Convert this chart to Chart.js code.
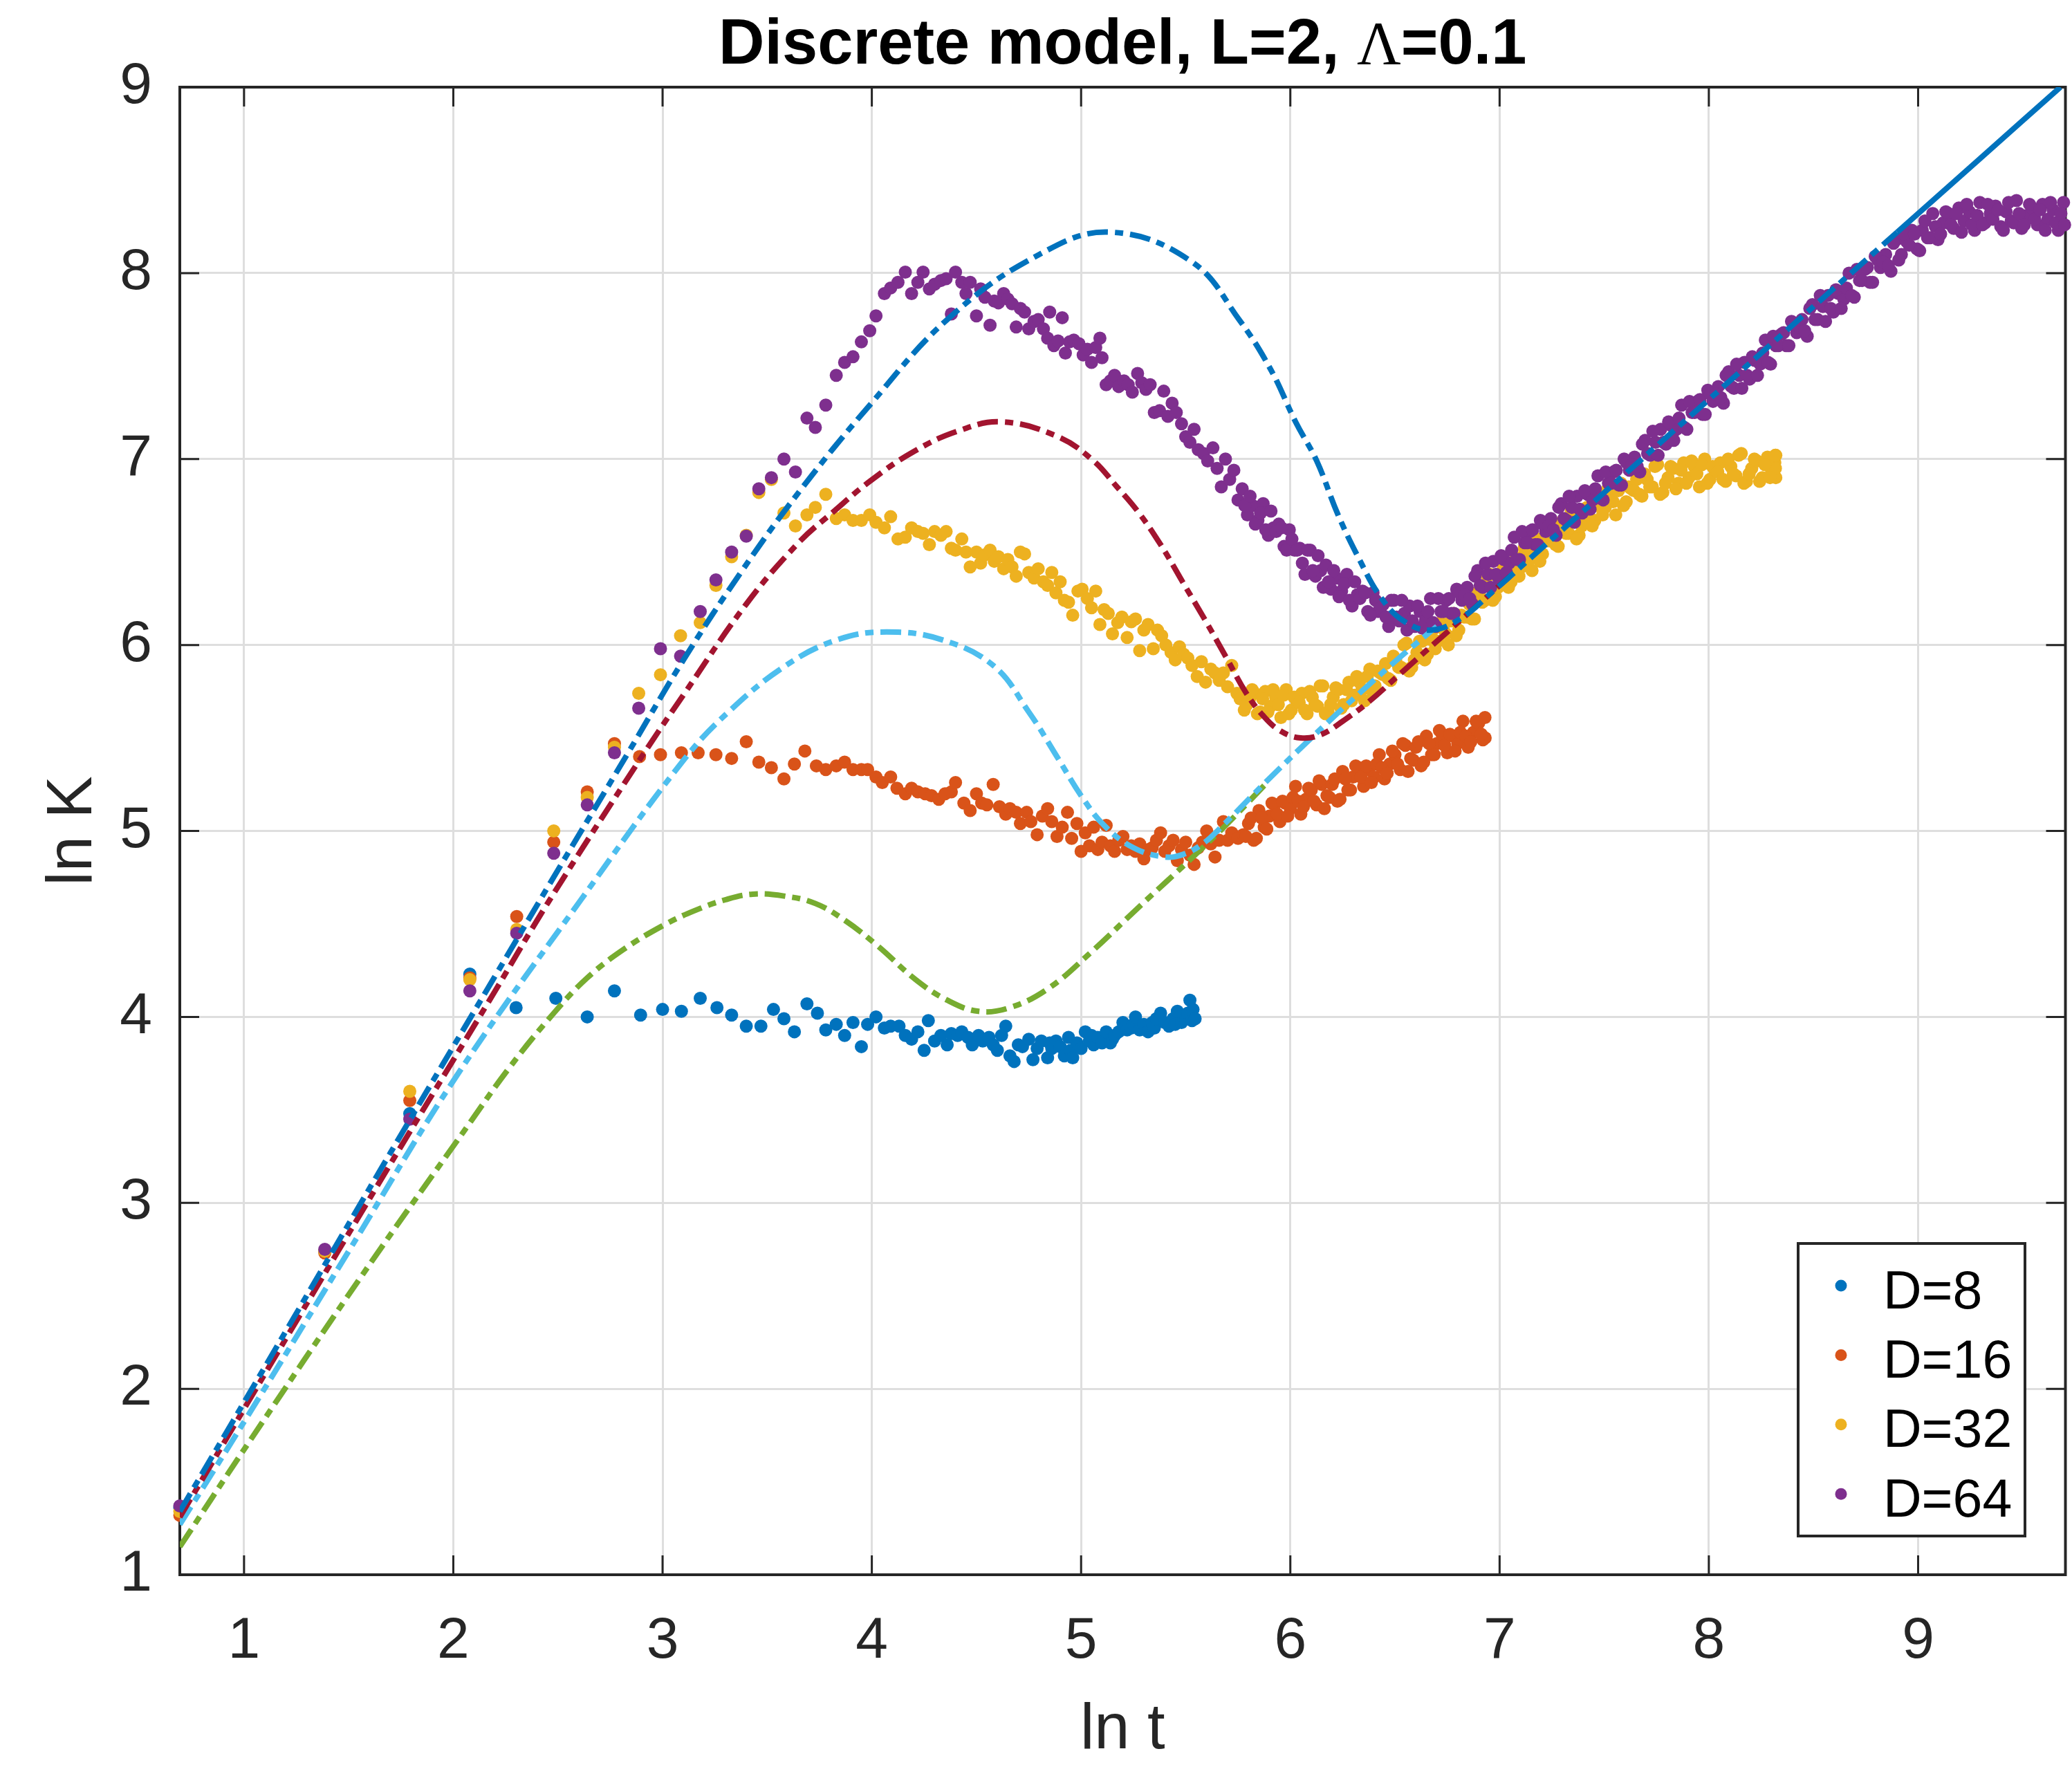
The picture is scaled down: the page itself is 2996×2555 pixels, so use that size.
<!DOCTYPE html>
<html lang="en">
<head>
  <meta charset="UTF-8">
  <title>Discrete model, L=2, Λ=0.1</title>
  <script src="https://cdn.jsdelivr.net/npm/chart.js"></script>
  <style>
    html, body { margin: 0; padding: 0; background: #fff; }
    canvas { display: block; }
  </style>
</head>
<body>
  <canvas id="grafico" width="2996" height="2555"></canvas>

  <script>
    // axis setup
    const xRange = [0.693, 9.704];
    const yRange = [1, 9];
    const xTicks = [1, 2, 3, 4, 5, 6, 7, 8, 9];
    const yTicks = [1, 2, 3, 4, 5, 6, 7, 8, 9];
    const seriesLabels = ['D=8', 'D=16', 'D=32', 'D=64'];

    // simulation points [ln t, ln K]
    const d8 = [
      [0.693,1.36],[1.386,2.74],[1.792,3.48],[2.079,4.23],[2.30,4.05],[2.49,4.10],[2.64,4.00],[2.77,4.14],[2.895,4.01],[3.00,4.04],
      [3.09,4.03],[3.18,4.10],[3.26,4.05],[3.33,4.01],[3.40,3.95],[3.47,3.95],[3.53,4.04],[3.58,3.99],[3.63,3.92],[3.69,4.07],
      [3.74,4.02],[3.78,3.93],[3.83,3.96],[3.87,3.90],[3.91,3.97],[3.95,3.84],[3.98,3.96],[4.02,4.00],[4.06,3.94],[4.09,3.95],
      [4.13,3.95],[4.16,3.90],[4.19,3.88],[4.22,3.92],[4.25,3.82],[4.27,3.98],[4.30,3.87],[4.33,3.90],[4.36,3.85],[4.38,3.91],
      [4.41,3.90],[4.43,3.92],[4.46,3.89],[4.48,3.85],[4.51,3.90],[4.53,3.87],[4.56,3.89],[4.58,3.85],[4.60,3.82],[4.62,3.90],
      [4.64,3.95],[4.66,3.79],[4.68,3.76],[4.70,3.85],[4.72,3.84],[4.75,3.88],[4.77,3.77],[4.79,3.83],[4.81,3.87],[4.84,3.78],
      [4.85,3.86],[4.86,3.83],[4.88,3.87],[4.90,3.84],[4.92,3.79],[4.94,3.89],[4.95,3.82],[4.96,3.78],[4.98,3.86],[5.00,3.83],
      [5.02,3.92],[5.04,3.87],[5.05,3.90],[5.06,3.85],[5.08,3.89],[5.10,3.86],[5.12,3.92],[5.14,3.86],[5.15,3.88],[5.16,3.90],
      [5.18,3.92],[5.20,3.97],[5.22,3.93],[5.24,3.94],[5.25,3.96],[5.26,4.00],[5.28,3.93],[5.30,3.96],[5.32,3.92],[5.34,3.97],
      [5.35,3.94],[5.36,3.99],[5.38,4.02],[5.40,3.97],[5.42,3.95],[5.44,3.99],[5.45,3.96],[5.46,4.03],[5.48,3.97],[5.50,3.99],
      [5.51,4.02],[5.52,4.09],[5.53,3.98],[5.535,4.04],[5.545,3.99]
    ];
    const d16 = [
      [0.693,1.32],[1.386,2.73],[1.792,3.55],[2.079,4.21],[2.303,4.54],[2.48,4.94],[2.64,5.21],[2.77,5.47],[2.89,5.40],[2.99,5.41],
      [3.09,5.42],[3.17,5.42],[3.255,5.41],[3.33,5.39],[3.40,5.48],[3.46,5.37],[3.52,5.34],[3.58,5.28],[3.63,5.36],[3.68,5.43],
      [3.735,5.35],[3.78,5.33],[3.83,5.35],[3.87,5.37],[3.91,5.33],[3.95,5.33],[3.98,5.33],[4.02,5.29],[4.05,5.26],[4.09,5.29],
      [4.12,5.23],[4.16,5.20],[4.19,5.23],[4.22,5.21],[4.255,5.20],[4.285,5.19],[4.32,5.17],[4.35,5.20],[4.38,5.21],[4.40,5.26],
      [4.44,5.15],[4.47,5.11],[4.50,5.20],[4.525,5.15],[4.55,5.14],[4.58,5.25],[4.61,5.13],[4.64,5.09],[4.66,5.12],[4.69,5.10],
      [4.71,5.04],[4.74,5.10],[4.76,5.05],[4.79,4.98],[4.815,5.08],[4.84,5.12],[4.86,5.05],[4.885,4.97],[4.91,5.02],[4.935,5.10],
      [4.955,4.96],[4.98,5.04],[5.00,4.89],[5.02,4.99],[5.04,4.92],[5.06,5.02],[5.08,4.90],[5.10,4.94],[5.12,5.03],[5.14,4.92],
      [5.16,4.89],[5.18,4.95],[5.20,4.97],[5.22,4.90],[5.24,4.92],[5.26,4.89],[5.28,4.93],[5.30,4.85],[5.32,4.90],[5.34,4.91],
      [5.36,4.95],[5.38,4.99],[5.40,4.89],[5.42,4.92],[5.44,4.95],[5.46,4.84],[5.48,4.90],[5.50,4.94],[5.52,4.87],[5.54,4.82],
      [5.56,4.91],[5.58,4.94],[5.60,5.00],[5.62,4.93],[5.64,4.86],[5.66,4.95],[5.68,5.05],[5.70,4.95],[5.72,4.99],[5.75,4.96],
      [5.775,4.98],[5.80,5.04],[5.825,4.95],[5.85,5.11],[5.875,5.02],[5.90,5.08],[5.925,5.14],[5.95,5.05],[5.975,5.15],[6.00,5.12],
      [6.025,5.24],[6.05,5.09],[6.075,5.17],[6.10,5.22],[6.125,5.14],[6.15,5.25],[6.175,5.19],[6.20,5.25],[6.225,5.16],[6.25,5.32],
      [6.275,5.22],[6.30,5.29],[6.325,5.34],[6.35,5.24],[6.375,5.33],[6.40,5.29],[6.425,5.41],[6.45,5.28],[6.475,5.36],[6.50,5.41],
      [6.525,5.33],[6.55,5.46],[6.575,5.39],[6.60,5.45],[6.625,5.35],[6.65,5.51],[6.675,5.41],[6.70,5.47],[6.725,5.52],[6.75,5.42],
      [6.775,5.51],[6.80,5.47],[6.825,5.59],[6.85,5.45],[6.875,5.53],[6.90,5.58],[6.92,5.49],[6.93,5.61],[6.931,5.50],
      [5.7875,4.97],[5.8125,5.07],[5.8375,4.96],[5.8625,5.07],[5.8875,5.01],[5.9125,5.15],[5.9375,5.09],[5.9625,5.16],[5.9875,5.08],[6.0125,5.18],
      [6.0375,5.16],[6.0625,5.13],[6.0875,5.23],[6.1125,5.16],[6.1375,5.27],[6.1625,5.12],[6.1875,5.18],[6.2125,5.28],[6.2375,5.17],[6.2625,5.28],
      [6.2875,5.22],[6.3125,5.35],[6.3375,5.29],[6.3625,5.35],[6.3875,5.26],[6.4125,5.36],[6.4375,5.34],[6.4625,5.31],[6.4875,5.43],[6.5125,5.36],
      [6.5375,5.47],[6.5625,5.32],[6.5875,5.38],[6.6125,5.48],[6.6375,5.37],[6.6625,5.47],[6.6875,5.41],[6.7125,5.54],[6.7375,5.46],[6.7625,5.52],
      [6.7875,5.43],[6.8125,5.53],[6.8375,5.51],[6.8625,5.48],[6.8875,5.59],[6.9125,5.52]
    ];
    const d32 = [
      [0.693,1.34],[1.386,2.74],[1.792,3.60],[2.079,4.20],[2.303,4.47],[2.48,5.00],[2.64,5.18],[2.77,5.45],[2.886,5.74],[2.99,5.84],
      [3.086,6.05],[3.18,6.12],[3.255,6.32],[3.33,6.475],[3.40,6.59],[3.46,6.82],[3.52,6.89],[3.58,6.71],[3.635,6.64],[3.69,6.70],
      [3.73,6.74],[3.78,6.81],[3.83,6.68],[3.87,6.70],[3.91,6.67],[3.95,6.67],[3.99,6.70],[4.02,6.66],[4.06,6.63],[4.09,6.69],
      [4.125,6.57],[4.16,6.58],[4.19,6.63],[4.22,6.61],[4.245,6.60],[4.275,6.54],[4.30,6.61],[4.33,6.59],[4.355,6.61],[4.38,6.52],
      [4.40,6.51],[4.43,6.57],[4.45,6.50],[4.47,6.42],[4.50,6.50],[4.52,6.44],[4.54,6.485],[4.565,6.51],[4.585,6.45],[4.605,6.475],
      [4.63,6.41],[4.65,6.46],[4.67,6.42],[4.69,6.37],[4.71,6.50],[4.73,6.49],[4.75,6.39],[4.775,6.36],[4.795,6.41],[4.82,6.34],
      [4.84,6.32],[4.86,6.39],[4.88,6.28],[4.90,6.34],[4.92,6.24],[4.94,6.23],[4.96,6.16],[4.985,6.29],[5.005,6.30],[5.03,6.25],
      [5.05,6.20],[5.07,6.29],[5.09,6.11],[5.11,6.19],[5.13,6.17],[5.15,6.06],[5.175,6.12],[5.195,6.15],[5.22,6.04],[5.24,6.125],
      [5.26,6.14],[5.28,5.97],[5.30,6.08],[5.32,6.11],[5.345,5.98],[5.365,6.08],[5.385,6.05],[5.405,6.00],[5.43,5.96],[5.45,5.92],
      [5.47,5.99],[5.49,5.95],[5.51,5.93],[5.53,5.89],[5.555,5.83],[5.575,5.91],[5.595,5.80],[5.62,5.87],[5.64,5.85],[5.66,5.81],
      [5.68,5.85],[5.70,5.775],[5.72,5.89],[5.745,5.74],[5.76,5.71],
      [5.78,5.65],[5.805,5.71],[5.83,5.74],[5.855,5.64],[5.88,5.75],[5.905,5.67],[5.93,5.72],[5.955,5.61],[5.98,5.76],[6.005,5.65],
      [6.03,5.70],[6.055,5.74],[6.08,5.63],[6.105,5.72],[6.13,5.67],[6.155,5.78],[6.18,5.64],[6.205,5.72],[6.23,5.76],[6.255,5.68],
      [6.28,5.80],[6.305,5.73],[6.33,5.80],[6.355,5.70],[6.38,5.87],[6.405,5.78],[6.43,5.85],[6.455,5.90],[6.48,5.81],[6.505,5.91],
      [6.53,5.88],[6.555,6.01],[6.58,5.88],[6.605,5.96],[6.63,6.02],[6.655,5.95],[6.68,6.08],[6.705,6.02],[6.73,6.09],[6.755,6.00],
      [6.78,6.17],[6.805,6.08],[6.83,6.15],[6.855,6.22],[6.88,6.14],[6.905,6.26],[6.93,6.24],[6.955,6.38],[6.98,6.26],[7.005,6.35],
      [7.03,6.41],[7.055,6.34],[7.08,6.47],[7.105,6.42],[7.13,6.49],[7.155,6.40],[7.18,6.57],[7.205,6.49],[7.23,6.56],[7.255,6.62],
      [7.28,6.53],[7.305,6.63],[7.33,6.60],[7.355,6.72],[7.38,6.59],[7.405,6.68],[7.43,6.74],[7.455,6.67],[7.48,6.80],[7.505,6.74],
      [7.53,6.80],[7.555,6.70],[7.58,6.87],[7.605,6.77],[7.63,6.84],[7.655,6.89],[7.68,6.80],[7.705,6.89],[7.73,6.85],[7.755,6.97],
      [7.78,6.82],[7.805,6.90],[7.83,6.95],[7.855,6.87],[7.88,6.98],[7.905,6.90],[7.93,6.96],[7.955,6.85],[7.98,7.00],[8.005,6.89],
      [8.03,6.94],[8.055,6.98],[8.08,6.88],[8.105,6.96],[8.13,6.91],[8.155,7.03],[8.18,6.88],[8.205,6.95],[8.23,6.99],[8.255,6.90],
      [8.28,7.01],[8.30,6.93],[8.315,6.98],[8.32,7.02],[8.32,6.90],[8.318,6.95],
      [5.7925,5.68],[5.8175,5.76],[5.8425,5.63],[5.8675,5.71],[5.8925,5.64],[5.9175,5.76],[5.9425,5.68],[5.9675,5.73],[5.9925,5.63],[6.0175,5.72],
      [6.0425,5.69],[6.0675,5.65],[6.0925,5.75],[6.1175,5.68],[6.1425,5.78],[6.1675,5.63],[6.1925,5.68],[6.2175,5.77],[6.2425,5.66],[6.2675,5.76],
      [6.2925,5.70],[6.3175,5.83],[6.3425,5.76],[6.3675,5.83],[6.3925,5.75],[6.4175,5.86],[6.4425,5.84],[6.4675,5.82],[6.4925,5.94],[6.5175,5.88],
      [6.5425,6.00],[6.5675,5.86],[6.5925,5.92],[6.6175,6.02],[6.6425,5.92],[6.6675,6.03],[6.6925,5.98],[6.7175,6.12],[6.7425,6.06],[6.7675,6.13],
      [6.7925,6.05],[6.8175,6.16],[6.8425,6.15],[6.8675,6.14],[6.8925,6.28],[6.9175,6.23],[6.9425,6.37],[6.9675,6.24],[6.9925,6.31],[7.0175,6.41],
      [7.0425,6.31],[7.0675,6.42],[7.0925,6.37],[7.1175,6.52],[7.1425,6.46],[7.1675,6.53],[7.1925,6.45],[7.2175,6.57],[7.2425,6.56],[7.2675,6.54],
      [7.2925,6.66],[7.3175,6.60],[7.3425,6.72],[7.3675,6.57],[7.3925,6.64],[7.4175,6.74],[7.4425,6.64],[7.4675,6.75],[7.4925,6.70],[7.5175,6.84],
      [7.5425,6.77],[7.5675,6.83],[7.5925,6.75],[7.6175,6.85],[7.6425,6.83],[7.6675,6.81],[7.6925,6.92],[7.7175,6.85],[7.7425,6.96],[7.7675,6.81],
      [7.7925,6.87],[7.8175,6.96],[7.8425,6.84],[7.8675,6.94],[7.8925,6.87],[7.9175,6.99],[7.9425,6.92],[7.9675,6.97],[7.9925,6.87],[8.0175,6.96],
      [8.0425,6.93],[8.0675,6.89],[8.0925,7.00],[8.1175,6.92],[8.1425,7.02],[8.1675,6.87],[8.1925,6.92],[8.2175,7.00],[8.2425,6.88],[8.2675,6.97],
      [8.2925,6.90],[8.3175,7.02]
    ];
    const d64 = [
      [0.693,1.37],[1.386,2.75],[1.792,3.45],[2.079,4.14],[2.303,4.45],[2.48,4.88],[2.64,5.14],[2.77,5.42],[2.886,5.66],[2.99,5.98],
      [3.086,5.94],[3.18,6.18],[3.255,6.35],[3.33,6.50],[3.40,6.585],[3.46,6.84],[3.52,6.90],[3.58,7.00],[3.635,6.93],[3.69,7.22],
      [3.73,7.17],[3.78,7.29],[3.83,7.45],[3.87,7.52],[3.91,7.55],[3.95,7.63],[3.99,7.69],[4.02,7.77],[4.06,7.89],[4.09,7.92],
      [4.125,7.95],[4.16,8.005],[4.19,7.89],[4.22,7.95],[4.245,8.005],[4.275,7.915],[4.30,7.94],[4.33,7.96],[4.355,7.97],[4.38,7.78],
      [4.40,8.005],[4.43,7.95],[4.45,7.89],[4.47,7.95],[4.50,7.77],[4.52,7.915],[4.54,7.87],[4.565,7.72],[4.585,7.85],[4.605,7.84],
      [4.63,7.89],[4.65,7.86],[4.67,7.835],[4.69,7.71],[4.71,7.81],[4.73,7.79],[4.75,7.70],[4.775,7.74],[4.795,7.75],[4.82,7.70],
      [4.84,7.65],[4.85,7.79],[4.87,7.61],[4.89,7.635],[4.91,7.76],[4.925,7.57],[4.945,7.63],[4.965,7.64],[4.99,7.62],[5.01,7.56],
      [5.03,7.59],[5.05,7.52],[5.07,7.60],[5.09,7.65],[5.10,7.545],[5.12,7.40],[5.14,7.42],[5.16,7.45],[5.18,7.39],[5.205,7.42],
      [5.225,7.40],[5.245,7.36],[5.27,7.46],[5.29,7.41],[5.31,7.375],[5.33,7.40],[5.35,7.25],[5.375,7.26],[5.395,7.365],[5.415,7.23],
      [5.435,7.30],[5.455,7.25],[5.48,7.19],[5.50,7.12],[5.52,7.09],[5.54,7.16],[5.56,7.05],[5.585,7.03],[5.605,6.99],[5.63,7.06],
      [5.65,6.95],[5.67,6.85],[5.69,7.00],[5.71,6.89],[5.73,6.94],[5.75,6.78],
      [5.77,6.84],[5.795,6.70],[5.82,6.75],[5.845,6.67],[5.87,6.76],[5.895,6.59],[5.92,6.63],[5.945,6.65],[5.97,6.53],[5.995,6.62],
      [6.02,6.51],[6.045,6.52],[6.07,6.38],[6.095,6.51],[6.12,6.37],[6.145,6.40],[6.17,6.43],[6.195,6.30],[6.22,6.36],[6.245,6.29],
      [6.27,6.38],[6.295,6.21],[6.32,6.27],[6.345,6.29],[6.37,6.18],[6.395,6.28],[6.42,6.18],[6.445,6.22],[6.47,6.10],[6.495,6.24],
      [6.52,6.13],[6.545,6.17],[6.57,6.21],[6.595,6.10],[6.62,6.18],[6.645,6.13],[6.67,6.25],[6.695,6.10],[6.72,6.18],[6.745,6.24],
      [6.77,6.17],[6.795,6.30],[6.82,6.24],[6.845,6.31],[6.87,6.22],[6.895,6.40],[6.92,6.31],[6.945,6.38],[6.97,6.45],[6.995,6.36],
      [7.02,6.46],[7.045,6.44],[7.07,6.58],[7.095,6.46],[7.12,6.55],[7.145,6.61],[7.17,6.54],[7.195,6.67],[7.22,6.61],[7.245,6.68],
      [7.27,6.59],[7.295,6.76],[7.32,6.67],[7.345,6.74],[7.37,6.80],[7.395,6.71],[7.42,6.81],[7.445,6.78],[7.47,6.91],[7.495,6.78],
      [7.52,6.87],[7.545,6.93],[7.57,6.86],[7.595,7.00],[7.62,6.94],[7.645,7.01],[7.67,6.93],[7.695,7.10],[7.72,7.02],[7.745,7.09],
      [7.77,7.16],[7.795,7.08],[7.82,7.18],[7.845,7.16],[7.87,7.29],[7.895,7.16],[7.92,7.25],[7.945,7.31],[7.97,7.24],[7.995,7.37],
      [8.02,7.31],[8.045,7.39],[8.07,7.30],[8.095,7.47],[8.12,7.38],[8.145,7.45],[8.17,7.52],[8.195,7.43],[8.22,7.53],[8.245,7.51],
      [8.27,7.64],[8.295,7.51],[8.32,7.61],[8.345,7.67],[8.37,7.61],[8.395,7.74],[8.42,7.68],[8.445,7.75],[8.47,7.66],[8.495,7.83],
      [8.52,7.75],[8.545,7.82],[8.57,7.88],[8.595,7.79],[8.62,7.89],[8.645,7.86],[8.67,8.00],[8.695,7.87],[8.72,7.96],[8.745,8.02],
      [8.77,7.95],[8.795,8.09],[8.82,8.03],[8.845,8.10],[8.87,8.01],[8.895,8.18],[8.92,8.10],[8.945,8.17],[8.97,8.23],[8.995,8.13],
      [9.02,8.23],[9.045,8.19],[9.07,8.32],[9.095,8.18],[9.12,8.27],[9.145,8.32],[9.17,8.24],[9.195,8.35],[9.22,8.28],[9.245,8.33],
      [9.27,8.23],[9.295,8.38],[9.32,8.27],[9.345,8.32],[9.37,8.36],[9.395,8.25],[9.42,8.33],[9.445,8.28],[9.47,8.39],[9.495,8.24],
      [9.52,8.31],[9.545,8.35],[9.57,8.26],[9.595,8.37],[9.62,8.29],[9.645,8.34],[9.67,8.23],[9.695,8.38],
      [5.7825,6.75],[5.8075,6.80],[5.8325,6.65],[5.8575,6.71],[5.8825,6.62],[5.9075,6.72],[5.9325,6.61],[5.9575,6.63],[5.9825,6.51],[6.0075,6.57],
      [6.0325,6.51],[6.0575,6.44],[6.0825,6.51],[6.1075,6.40],[6.1325,6.48],[6.1575,6.31],[6.1825,6.34],[6.2075,6.40],[6.2325,6.26],[6.2575,6.33],
      [6.2825,6.24],[6.3075,6.34],[6.3325,6.25],[6.3575,6.28],[6.3825,6.16],[6.4075,6.24],[6.4325,6.20],[6.4575,6.15],[6.4825,6.24],[6.5075,6.15],
      [6.5325,6.24],[6.5575,6.08],[6.5825,6.13],[6.6075,6.21],[6.6325,6.09],[6.6575,6.18],[6.6825,6.12],[6.7075,6.25],[6.7325,6.18],[6.7575,6.25],
      [6.7825,6.17],[6.8075,6.28],[6.8325,6.27],[6.8575,6.25],[6.8825,6.37],[6.9075,6.32],[6.9325,6.44],[6.9575,6.31],[6.9825,6.38],[7.0075,6.48],
      [7.0325,6.39],[7.0575,6.51],[7.0825,6.46],[7.1075,6.61],[7.1325,6.55],[7.1575,6.62],[7.1825,6.54],[7.2075,6.65],[7.2325,6.64],[7.2575,6.62],
      [7.2825,6.74],[7.3075,6.68],[7.3325,6.80],[7.3575,6.66],[7.3825,6.73],[7.4075,6.83],[7.4325,6.73],[7.4575,6.84],[7.4825,6.79],[7.5075,6.93],
      [7.5325,6.87],[7.5575,6.94],[7.5825,6.86],[7.6075,6.98],[7.6325,6.97],[7.6575,6.96],[7.6825,7.08],[7.7075,7.03],[7.7325,7.15],[7.7575,7.02],
      [7.7825,7.09],[7.8075,7.20],[7.8325,7.10],[7.8575,7.22],[7.8825,7.17],[7.9075,7.31],[7.9325,7.25],[7.9575,7.32],[7.9825,7.24],[8.0075,7.35],
      [8.0325,7.35],[8.0575,7.33],[8.0825,7.45],[8.1075,7.39],[8.1325,7.51],[8.1575,7.38],[8.1825,7.45],[8.2075,7.55],[8.2325,7.45],[8.2575,7.57],
      [8.2825,7.52],[8.3075,7.66],[8.3325,7.61],[8.3575,7.68],[8.3825,7.61],[8.4075,7.72],[8.4325,7.71],[8.4575,7.69],[8.4825,7.81],[8.5075,7.75],
      [8.5325,7.88],[8.5575,7.74],[8.5825,7.81],[8.6075,7.91],[8.6325,7.81],[8.6575,7.92],[8.6825,7.88],[8.7075,8.02],[8.7325,7.96],[8.7575,8.03],
      [8.7825,7.95],[8.8075,8.07],[8.8325,8.06],[8.8575,8.04],[8.8825,8.16],
      [8.9075,8.07],[8.9325,8.21],[8.9575,8.15],[8.9825,8.21],[9.0075,8.12],[9.0325,8.28],[9.0575,8.19],[9.0825,8.25],[9.1075,8.21],[9.1325,8.33],
      [9.1575,8.26],[9.1825,8.32],[9.2075,8.22],[9.2325,8.37],[9.2575,8.26],[9.2825,8.31],[9.3075,8.26],[9.3325,8.37],[9.3575,8.29],[9.3825,8.34],
      [9.4075,8.23],[9.4325,8.38],[9.4575,8.27],[9.4825,8.32],[9.5075,8.26],[9.5325,8.37],[9.5575,8.29],[9.5825,8.34],[9.6075,8.23],[9.6325,8.38],
      [9.6575,8.27],[9.6825,8.32],[9.70,8.26]
    ];

    // theory curves
    const fit64 = [
      [0.693,1.34],[1.2,2.31],[1.7,3.27],[2.2,4.22],[2.5,4.79],[2.83,5.41],[3.10,5.92],[3.38,6.40],[3.65,6.82],[3.99,7.29],
      [4.37,7.76],[4.8,8.10],[5.14,8.22],[5.53,8.06],[5.755,7.75],[5.907,7.48],[6.025,7.20],[6.126,6.99],[6.228,6.70],[6.33,6.46],
      [6.43,6.26],[6.54,6.13],[6.67,6.08],[6.81,6.14],[6.97,6.29],[7.14,6.46],[7.31,6.63],[7.58,6.90],[8.0,7.32],[8.37,7.69],
      [8.9,8.22],[9.30,8.62],[9.68,9.0]
    ];
    const fit32 = [
      [0.693,1.31],[1.2,2.27],[1.7,3.21],[2.2,4.14],[2.45,4.61],[2.895,5.39],[3.105,5.74],[3.40,6.22],[3.65,6.55],[3.82,6.72],
      [3.99,6.88],[4.20,7.04],[4.41,7.15],[4.62,7.20],[4.89,7.12],[5.06,6.99],[5.164,6.86],[5.27,6.72],[5.38,6.54],[5.49,6.33],
      [5.60,6.12],[5.70,5.92],[5.79,5.74],[5.87,5.62],[5.95,5.54],[6.05,5.50],[6.15,5.52],[6.25,5.59],[6.37,5.69],[6.53,5.85],
      [6.70,6.02],[6.89,6.21],[7.05,6.37]
    ];
    const fit16 = [
      [0.693,1.27],[1.01,1.84],[1.5,2.74],[2.02,3.69],[2.61,4.63],[3.10,5.38],[3.315,5.64],[3.59,5.89],[3.84,6.03],[4.07,6.07],
      [4.33,6.03],[4.58,5.89],[4.75,5.64],[4.89,5.39],[5.0,5.19],[5.11,5.03],[5.25,4.91],[5.40,4.86],[5.49,4.875],[5.58,4.93],
      [5.66,5.01],[5.88,5.26],[6.10,5.50],[6.32,5.73],[6.53,5.94],[6.70,6.10]
    ];
    const fit8 = [
      [0.693,1.15],[1.01,1.69],[1.57,2.62],[2.06,3.40],[2.27,3.73],[2.48,4.02],[2.64,4.21],[2.81,4.36],[3.0,4.49],[3.15,4.57],
      [3.30,4.63],[3.43,4.66],[3.58,4.65],[3.73,4.61],[3.87,4.52],[4.03,4.38],[4.21,4.20],[4.36,4.09],[4.51,4.03],[4.66,4.05],
      [4.84,4.15],[5.04,4.34],[5.285,4.60],[5.525,4.85],[5.70,5.04],[5.88,5.25]
    ];

    const fontFamily = '"Liberation Sans", Arial, Helvetica, sans-serif';
    const ink = '#262626';
    const toXY = pts => pts.map(p => ({ x: p[0], y: p[1] }));

    function dots(label, pts, color, order) {
      return {
        label: label,
        data: toXY(pts),
        backgroundColor: color,
        borderColor: color,
        pointRadius: 9.5,
        pointHoverRadius: 9.5,
        pointBorderWidth: 0,
        showLine: false,
        clip: false,
        order: order,
        inLegend: true
      };
    }

    function curve(pts, color, solidFrom) {
      return {
        data: toXY(pts),
        borderColor: color,
        backgroundColor: color,
        borderWidth: 8,
        borderDash: [30, 10, 12, 10],
        pointRadius: 0,
        showLine: true,
        fill: false,
        tension: 0.4,
        order: 0,
        segment: {
          borderDash: c => (solidFrom !== undefined && c.p0.parsed.x >= solidFrom) ? [] : undefined
        }
      };
    }

    // box, inward ticks, title, axis labels, legend
    const matlabFrame = {
      id: 'matlabFrame',
      beforeDatasetsDraw(chart) {
        const { ctx, chartArea: a, scales } = chart;
        ctx.save();
        ctx.strokeStyle = ink;
        ctx.lineWidth = 3;
        ctx.beginPath();
        xTicks.forEach(v => {
          const px = scales.x.getPixelForValue(v);
          ctx.moveTo(px, a.bottom); ctx.lineTo(px, a.bottom - 28);
          ctx.moveTo(px, a.top); ctx.lineTo(px, a.top + 28);
        });
        yTicks.forEach(v => {
          const py = scales.y.getPixelForValue(v);
          ctx.moveTo(a.left, py); ctx.lineTo(a.left + 28, py);
          ctx.moveTo(a.right, py); ctx.lineTo(a.right - 28, py);
        });
        ctx.stroke();
        ctx.lineWidth = 4;
        ctx.strokeRect(a.left, a.top, a.right - a.left, a.bottom - a.top);
        ctx.restore();
      },
      afterDraw(chart) {
        const { ctx, chartArea: a } = chart;
        const cx = (a.left + a.right) / 2;
        const cy = (a.top + a.bottom) / 2;
        ctx.save();

        // title, with a serif Lambda like the TeX one
        const parts = [
          ['Discrete model, L=2, ', 'bold 92px ' + fontFamily],
          ['\u039B', '88px "Liberation Serif", "DejaVu Serif", serif'],
          ['=0.1', 'bold 92px ' + fontFamily]
        ];
        let total = 0;
        parts.forEach(p => { ctx.font = p[1]; total += ctx.measureText(p[0]).width; });
        let tx = cx - total / 2;
        ctx.fillStyle = '#000';
        ctx.textBaseline = 'alphabetic';
        ctx.textAlign = 'left';
        parts.forEach(p => {
          ctx.font = p[1];
          ctx.fillText(p[0], tx, 92);
          tx += ctx.measureText(p[0]).width;
        });

        // axis labels
        ctx.fillStyle = ink;
        ctx.font = '92px ' + fontFamily;
        ctx.textAlign = 'center';
        ctx.fillText('ln t', cx, 2528);
        ctx.translate(132, cy);
        ctx.rotate(-Math.PI / 2);
        ctx.fillText('ln K', 0, 0);
        ctx.setTransform(1, 0, 0, 1, 0, 0);

        // legend box
        const box = { left: 2600, top: 1798, right: 2928, bottom: 2221 };
        ctx.fillStyle = '#fff';
        ctx.fillRect(box.left, box.top, box.right - box.left, box.bottom - box.top);
        ctx.strokeStyle = ink;
        ctx.lineWidth = 4;
        ctx.strokeRect(box.left, box.top, box.right - box.left, box.bottom - box.top);
        const items = chart.data.datasets.filter(d => d.inLegend);
        items.sort((p, q) => seriesLabels.indexOf(p.label) - seriesLabels.indexOf(q.label));
        ctx.font = '77px ' + fontFamily;
        ctx.textAlign = 'left';
        items.forEach((d, i) => {
          const y = 1859 + i * 100.4;
          ctx.fillStyle = d.backgroundColor;
          ctx.beginPath();
          ctx.arc(2662, y, 8.5, 0, Math.PI * 2);
          ctx.fill();
          ctx.fillStyle = '#000';
          ctx.fillText(d.label, 2723, y + 32.5);
        });
        ctx.restore();
      }
    };

    const ctx = document.getElementById('grafico').getContext('2d');
    new Chart(ctx, {
      type: 'scatter',
      data: {
        datasets: [
          curve(fit64, '#0072BD', 8.9),
          curve(fit32, '#A2142F'),
          curve(fit16, '#4DBEEE'),
          curve(fit8, '#77AC30'),
          dots(seriesLabels[3], d64, '#7E2F8E', 1),
          dots(seriesLabels[2], d32, '#EDB120', 2),
          dots(seriesLabels[1], d16, '#D95319', 3),
          dots(seriesLabels[0], d8, '#0072BD', 4)
        ]
      },
      options: {
        responsive: false,
        animation: false,
        devicePixelRatio: 1,
        layout: { padding: { top: 126, right: 8, left: 0, bottom: 0 } },
        plugins: {
          legend: { display: false },
          tooltip: { enabled: false },
          title: { display: false }
        },
        scales: {
          x: {
            type: 'linear',
            min: xRange[0],
            max: xRange[1],
            afterBuildTicks: s => { s.ticks = xTicks.map(v => ({ value: v })); },
            afterFit: s => { s.height = 278; },
            grid: { color: '#dedede', lineWidth: 3, drawTicks: false },
            border: { display: false },
            ticks: { padding: 46, color: ink, font: { family: fontFamily, size: 84 } }
          },
          y: {
            type: 'linear',
            min: yRange[0],
            max: yRange[1],
            afterBuildTicks: s => { s.ticks = yTicks.map(v => ({ value: v })); },
            afterFit: s => { s.width = 260; },
            grid: { color: '#dedede', lineWidth: 3, drawTicks: false },
            border: { display: false },
            ticks: { padding: 40, color: ink, font: { family: fontFamily, size: 84 } }
          }
        }
      },
      plugins: [matlabFrame]
    });
  </script>
</body>
</html>
